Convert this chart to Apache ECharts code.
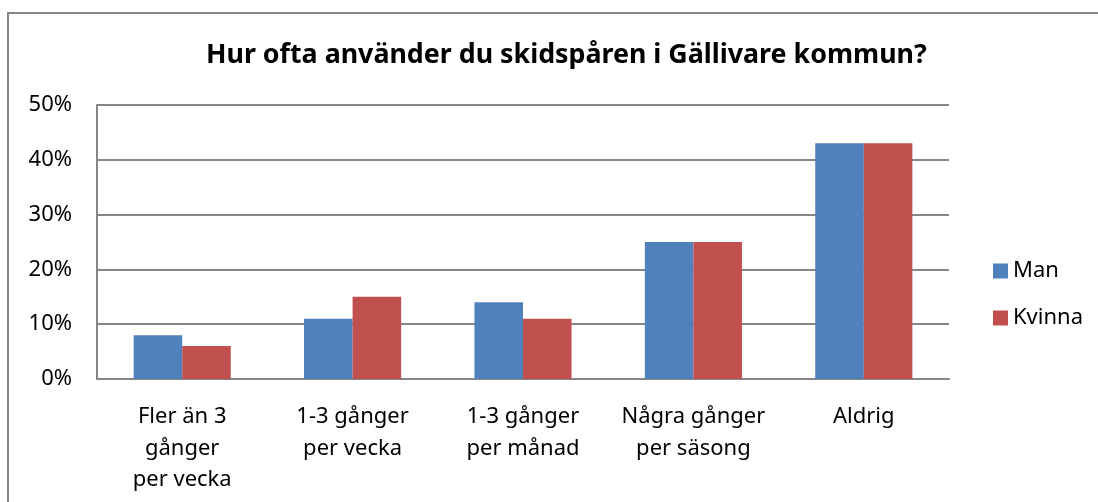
<!DOCTYPE html>
<html>
<head>
<meta charset="utf-8">
<script src="https://cdn.jsdelivr.net/npm/echarts@6/dist/echarts.min.js"></script>
<style>
html,body{margin:0;padding:0;background:#fff;}
#chart{width:1098px;height:502px;}
</style>
</head>
<body>
<div id="chart"></div>
<script>
const titleText = 'Hur ofta använder du skidspåren i Gällivare kommun?';
const categories = ['Fler än 3\ngånger\nper vecka', '1-3 gånger\nper vecka', '1-3 gånger\nper månad', 'Några gånger\nper säsong', 'Aldrig'];
const seriesNames = ['Man', 'Kvinna'];
const manValues = [8, 11, 14, 25, 43];
const kvinnaValues = [6, 15, 11, 25, 43];
const yTicks = [0, 10, 20, 30, 40, 50];

const FONT = 'Noto Sans';
const chart = echarts.init(document.getElementById('chart'), null, {renderer: 'canvas'});
chart.setOption({
  animation: false,
  backgroundColor: '#fff',
  textStyle: {fontFamily: FONT},
  graphic: [{
    type: 'rect',
    shape: {x: 8, y: 13, width: 1200, height: 600},
    style: {fill: 'none', stroke: '#868686', lineWidth: 2},
    silent: true,
    z: -1
  }],
  title: {
    text: titleText,
    left: 201,
    top: 37,
    textStyle: {fontFamily: FONT, fontWeight: 'bold', fontSize: 26.8, color: '#000'}
  },
  legend: {
    orient: 'vertical',
    left: 988,
    top: 255,
    itemWidth: 15,
    itemHeight: 15,
    itemGap: 25,
    icon: 'rect',
    data: seriesNames,
    textStyle: {fontFamily: FONT, fontSize: 22, color: '#000', padding: [0, 0, 0, 0]}
  },
  grid: {left: 97, right: 149, top: 105, bottom: 123, containLabel: false},
  xAxis: {
    type: 'category',
    data: categories,
    axisLine: {lineStyle: {color: '#868686', width: 2}},
    axisTick: {show: false},
    axisLabel: {fontFamily: FONT, fontSize: 22, color: '#000', lineHeight: 31.5, margin: 22, interval: 0}
  },
  yAxis: {
    type: 'value',
    min: 0,
    max: 50,
    interval: 10,
    axisLine: {show: true, lineStyle: {color: '#868686', width: 2}},
    axisTick: {show: false},
    splitLine: {lineStyle: {color: '#868686', width: 2}},
    axisLabel: {
      fontFamily: FONT, fontSize: 22, color: '#000', margin: 25,
      formatter: function (v) { return yTicks.indexOf(v) >= 0 ? v + '%' : ''; }
    }
  },
  series: [
    {name: seriesNames[0], type: 'bar', data: manValues, barGap: '0%', barCategoryGap: '43%',
     itemStyle: {color: '#4F81BD'}},
    {name: seriesNames[1], type: 'bar', data: kvinnaValues, barGap: '0%', barCategoryGap: '43%',
     itemStyle: {color: '#C0504D'}}
  ]
});
</script>
</body>
</html>
